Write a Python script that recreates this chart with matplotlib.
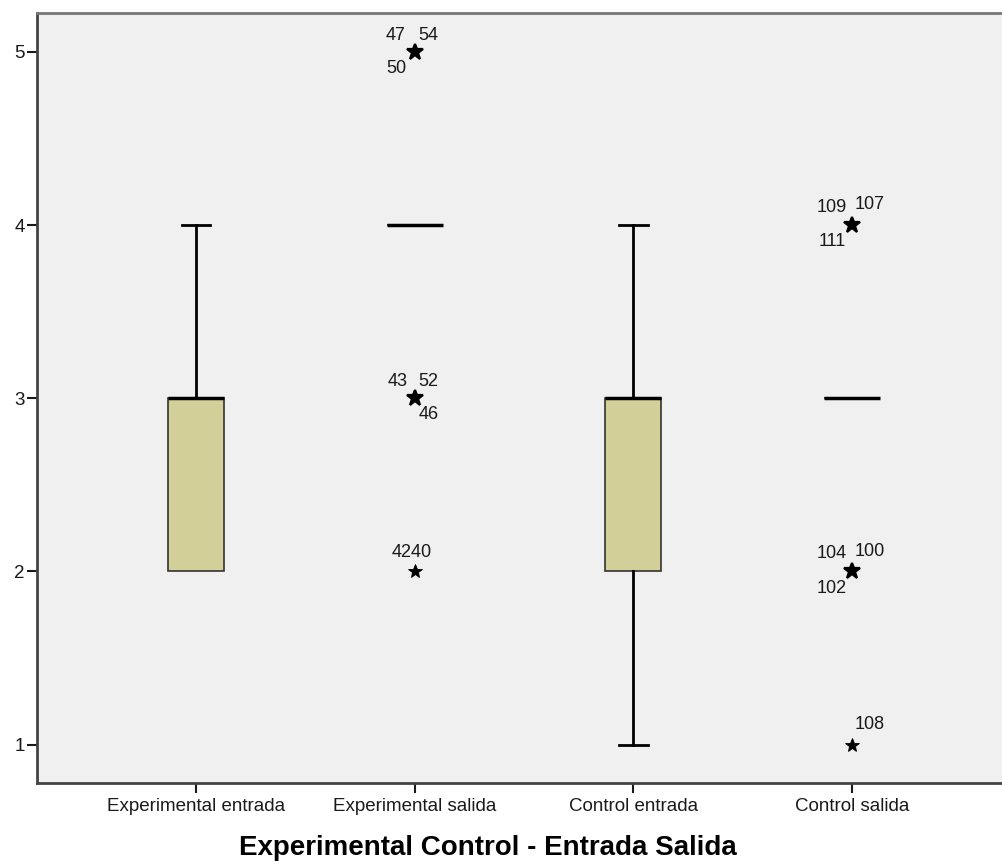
import numpy as np
import matplotlib
matplotlib.use("Agg")
import matplotlib.pyplot as plt

plt.rcParams['font.family'] = ['Liberation Sans', 'DejaVu Sans']

groups = ['Experimental entrada', 'Experimental salida', 'Control entrada', 'Control salida']
q1 = [2, 4, 2, 3]
med = [3, 4, 3, 3]
q3 = [3, 4, 3, 3]
whislo = [2, 4, 1, 3]
whishi = [4, 4, 4, 3]

# outliers: (group index, value, case ids)
out_group = [1, 1, 1, 3, 3, 3]
out_value = [5, 3, 2, 4, 2, 1]
out_ids = [['47', '54', '50'], ['43', '52', '46'], ['4240'],
           ['109', '107', '111'], ['104', '100', '102'], ['108']]

# label offsets in points (x, y) per label
label_offsets = [[(-13.5, 12), (10, 12), (-13, -12)],
                 [(-12, 12), (10, 12), (10, -12)],
                 [(-2, 14)],
                 [(-14.5, 13), (13, 14.5), (-14.5, -12)],
                 [(-14.5, 13), (13, 14.5), (-14.5, -12)],
                 [(13, 14.5)]]

box_col = '#d3cf98'
fig = plt.figure(figsize=(10.02, 8.63), dpi=100)
ax = fig.add_axes([0.037, 0.093, 0.963, 0.892])
ax.set_facecolor('#f0f0f0')

stats = []
for i in range(len(groups)):
    stats.append(dict(med=med[i], q1=q1[i], q3=q3[i], whislo=whislo[i], whishi=whishi[i], fliers=[]))
pos = np.arange(1, len(groups) + 1)
parts = ax.bxp(stats, positions=pos, widths=0.255, patch_artist=True, showfliers=False,
               boxprops=dict(facecolor=box_col, edgecolor='#333333', linewidth=1.2),
               medianprops=dict(color='black', linewidth=2.5),
               whiskerprops=dict(color='black', linewidth=2),
               capprops=dict(color='black', linewidth=2),
               capwidths=0.13)
# no cap where the whisker has zero length
for i in range(len(groups)):
    if whislo[i] == q1[i]:
        parts['caps'][2 * i].set_visible(False)
    if whishi[i] == q3[i]:
        parts['caps'][2 * i + 1].set_visible(False)

for g, v, ids, offs in zip(out_group, out_value, out_ids, label_offsets):
    x = pos[g]
    ms = 12 if len(ids) > 2 else 10
    mew = 1.6 if len(ids) > 2 else 0.6
    ax.plot(x, v, marker='*', color='black', markersize=ms, markeredgewidth=mew, linestyle='none')
    for lab, (dx, dy) in zip(ids, offs):
        ax.annotate(lab, (x, v), xytext=(dx, dy), textcoords='offset points',
                    ha='center', va='center', fontsize=13, color='#1a1a1a')

ax.set_xlim(0.273, 4.686)
ax.set_ylim(0.78, 5.225)
ax.set_yticks([1, 2, 3, 4, 5])
ax.set_xticks(pos)
ax.set_xticklabels(groups)
ax.tick_params(axis='both', labelsize=13.5, colors='#1a1a1a', length=7, width=1.5, pad=2)
ax.tick_params(axis='x', pad=4)
ax.spines['right'].set_visible(False)
ax.spines['left'].set_color('#444444')
ax.spines['left'].set_linewidth(2)
ax.spines['bottom'].set_color('#444444')
ax.spines['bottom'].set_linewidth(2)
ax.spines['top'].set_color('#777777')
ax.spines['top'].set_linewidth(2)
ax.set_xlabel('Experimental Control - Entrada Salida', fontsize=20, fontweight='bold')
ax.xaxis.set_label_coords(0.467, -0.068)

fig.savefig('out.png', dpi=100)
